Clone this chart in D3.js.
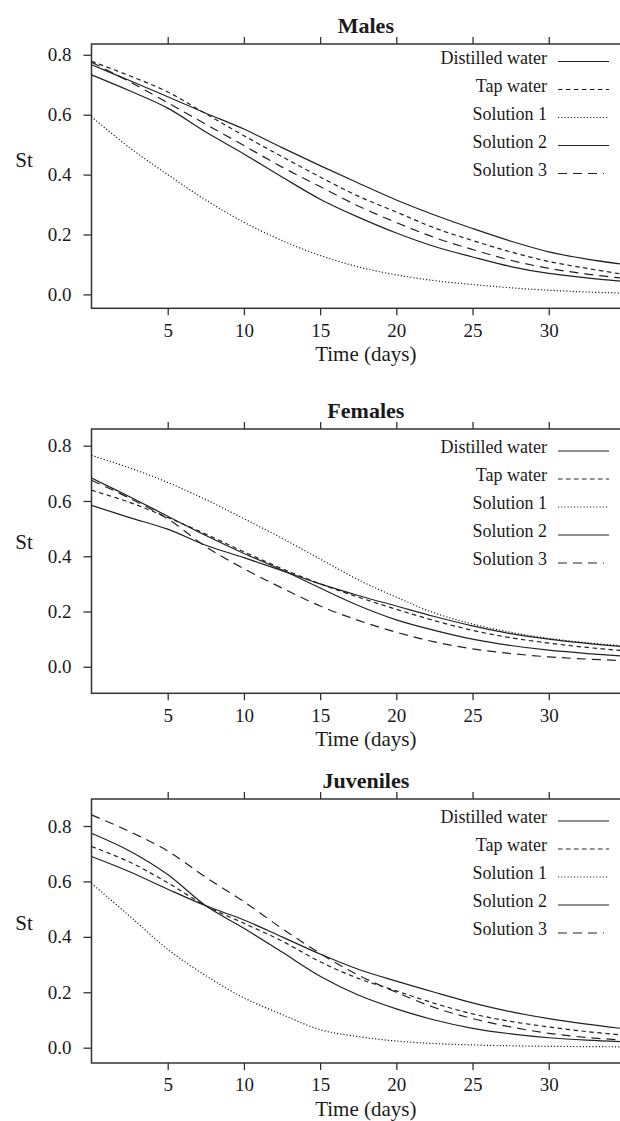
<!DOCTYPE html>
<html>
<head>
<meta charset="utf-8">
<script src="https://cdn.jsdelivr.net/npm/d3@7/dist/d3.min.js"></script>
<style>
  body { margin: 0; background: #fff; }
  svg text { font-family: "Liberation Serif", "Times New Roman", serif; fill: #1a1a1a; }
</style>
</head>
<body>
<div id="chart"></div>
<script>
// time points (days) at which the curves were read
const days = [0, 2.5, 5, 7.5, 10, 12.5, 15, 17.5, 20, 22.5, 25, 27.5, 30, 32.5, 35];
const seriesNames = ['Distilled water', 'Tap water', 'Solution 1', 'Solution 2', 'Solution 3'];
const xTicks = [5, 10, 15, 20, 25, 30];
const yTicks = [0, 0.2, 0.4, 0.6, 0.8];

// Males
const malesDistilled = [0.767, 0.714, 0.660, 0.605, 0.552, 0.490, 0.430, 0.372, 0.315, 0.265, 0.220, 0.178, 0.142, 0.118, 0.100];
const malesTap = [0.778, 0.730, 0.676, 0.603, 0.530, 0.460, 0.392, 0.328, 0.275, 0.222, 0.180, 0.142, 0.110, 0.087, 0.066];
const malesSol1 = [0.593, 0.490, 0.400, 0.315, 0.241, 0.180, 0.130, 0.092, 0.065, 0.046, 0.033, 0.022, 0.014, 0.008, 0.004];
const malesSol2 = [0.733, 0.680, 0.622, 0.542, 0.469, 0.392, 0.318, 0.258, 0.205, 0.160, 0.125, 0.093, 0.070, 0.055, 0.043];
const malesSol3 = [0.775, 0.710, 0.640, 0.568, 0.497, 0.425, 0.360, 0.295, 0.240, 0.190, 0.150, 0.114, 0.087, 0.068, 0.053];

// Females
const femalesDistilled = [0.584, 0.540, 0.498, 0.440, 0.395, 0.348, 0.300, 0.258, 0.220, 0.182, 0.148, 0.120, 0.100, 0.085, 0.072];
const femalesTap = [0.639, 0.595, 0.540, 0.480, 0.416, 0.355, 0.300, 0.252, 0.208, 0.167, 0.132, 0.105, 0.086, 0.070, 0.058];
const femalesSol1 = [0.765, 0.720, 0.667, 0.605, 0.536, 0.465, 0.390, 0.315, 0.252, 0.195, 0.155, 0.125, 0.103, 0.087, 0.075];
const femalesSol2 = [0.683, 0.615, 0.545, 0.475, 0.410, 0.350, 0.285, 0.222, 0.170, 0.132, 0.100, 0.077, 0.060, 0.048, 0.038];
const femalesSol3 = [0.675, 0.610, 0.535, 0.435, 0.355, 0.285, 0.220, 0.168, 0.125, 0.090, 0.065, 0.048, 0.036, 0.028, 0.022];

// Juveniles
const juvenilesDistilled = [0.690, 0.635, 0.572, 0.512, 0.461, 0.400, 0.338, 0.283, 0.240, 0.200, 0.162, 0.130, 0.105, 0.085, 0.068];
const juvenilesTap = [0.726, 0.670, 0.595, 0.512, 0.449, 0.385, 0.310, 0.250, 0.205, 0.160, 0.122, 0.095, 0.075, 0.058, 0.045];
const juvenilesSol1 = [0.593, 0.475, 0.355, 0.260, 0.180, 0.120, 0.065, 0.040, 0.024, 0.015, 0.010, 0.007, 0.005, 0.004, 0.003];
const juvenilesSol2 = [0.774, 0.710, 0.625, 0.512, 0.431, 0.345, 0.258, 0.190, 0.140, 0.100, 0.070, 0.050, 0.036, 0.027, 0.021];
const juvenilesSol3 = [0.840, 0.780, 0.710, 0.615, 0.527, 0.430, 0.340, 0.262, 0.200, 0.145, 0.105, 0.075, 0.052, 0.037, 0.027];

const dashes = [null, '4.5,3.5', '1.2,2', null, '9,6'];

// pixel layout of each panel (top/bottom border, where 0 and 0.8 fall, first legend row)
const panels = [
  { title: 'Males', top: 44, bottom: 308.3, y0: 294.4, y8: 54.8, legendY: 57.5,
    series: [malesDistilled, malesTap, malesSol1, malesSol2, malesSol3] },
  { title: 'Females', top: 429, bottom: 693.3, y0: 666.8, y8: 445.7, legendY: 447,
    series: [femalesDistilled, femalesTap, femalesSol1, femalesSol2, femalesSol3] },
  { title: 'Juveniles', top: 799, bottom: 1063, y0: 1047.7, y8: 826, legendY: 817,
    series: [juvenilesDistilled, juvenilesTap, juvenilesSol1, juvenilesSol2, juvenilesSol3] },
];

const width = 620;
const height = 1121;
const left = 91.5;
const right = 640.2;

const svg = d3.select('#chart')
  .append('svg')
  .attr('width', width)
  .attr('height', height);

const x = d3.scaleLinear().domain([0, 36]).range([left, right]);
const cx = (left + right) / 2;

panels.forEach((p, i) => {
  const y = d3.scaleLinear().domain([0, 0.8]).range([p.y0, p.y8]);
  const g = svg.append('g');

  // clip for the curves
  const clipId = `clip${i}`;
  svg.append('clipPath').attr('id', clipId)
    .append('rect')
    .attr('x', left).attr('y', p.top)
    .attr('width', right - left).attr('height', p.bottom - p.top);

  // title
  g.append('text')
    .attr('x', cx).attr('y', p.top - 19)
    .attr('text-anchor', 'middle')
    .attr('dominant-baseline', 'central')
    .style('font-size', '22px')
    .style('font-weight', 'bold')
    .text(p.title);

  // axes
  const axisStyle = (sel) => {
    sel.select('.domain').remove();
    sel.selectAll('line').attr('stroke', '#333').attr('stroke-width', 1.3);
    sel.selectAll('text').style('font-size', '19px').attr('fill', '#1a1a1a');
  };

  g.append('g')
    .attr('transform', `translate(0,${p.bottom})`)
    .call(d3.axisBottom(x).tickValues(xTicks).tickSize(7).tickPadding(8))
    .call(axisStyle);

  g.append('g')
    .attr('transform', `translate(0,${p.top})`)
    .call(d3.axisTop(x).tickValues(xTicks).tickSize(7).tickFormat(''))
    .call(axisStyle);

  g.append('g')
    .attr('transform', `translate(${left},0)`)
    .call(d3.axisLeft(y).tickValues(yTicks).tickSize(8).tickPadding(12).tickFormat(d3.format('.1f')))
    .call(axisStyle);

  // box
  g.append('rect')
    .attr('x', left).attr('y', p.top)
    .attr('width', right - left).attr('height', p.bottom - p.top)
    .attr('fill', 'none')
    .attr('stroke', '#333')
    .attr('stroke-width', 1.5);

  // axis titles
  g.append('text')
    .attr('x', 24).attr('y', y(0.45))
    .attr('text-anchor', 'middle')
    .attr('dominant-baseline', 'central')
    .style('font-size', '21px')
    .text('St');

  g.append('text')
    .attr('x', cx).attr('y', p.bottom + 46)
    .attr('text-anchor', 'middle')
    .attr('dominant-baseline', 'central')
    .style('font-size', '21px')
    .text('Time (days)');

  // curves
  const line = d3.line()
    .x((d, k) => x(days[k]))
    .y((d) => y(d))
    .curve(d3.curveCatmullRom.alpha(0.5));

  g.append('g')
    .attr('clip-path', `url(#${clipId})`)
    .selectAll('path')
    .data(p.series)
    .enter()
    .append('path')
    .attr('d', line)
    .attr('fill', 'none')
    .attr('stroke', '#222')
    .attr('stroke-width', 1.2)
    .attr('stroke-dasharray', (d, k) => dashes[k]);

  // legend
  const legend = g.append('g');
  seriesNames.forEach((name, k) => {
    const ly = p.legendY + k * 28;
    legend.append('text')
      .attr('x', 547).attr('y', ly)
      .attr('text-anchor', 'end')
      .attr('dominant-baseline', 'central')
      .style('font-size', '18px')
      .text(name);
    legend.append('line')
      .attr('x1', 558).attr('x2', k === 4 ? 604 : 609)
      .attr('y1', ly + 4).attr('y2', ly + 4)
      .attr('stroke', '#222')
      .attr('stroke-width', 1.2)
      .attr('stroke-dasharray', dashes[k]);
  });
});
</script>
</body>
</html>
